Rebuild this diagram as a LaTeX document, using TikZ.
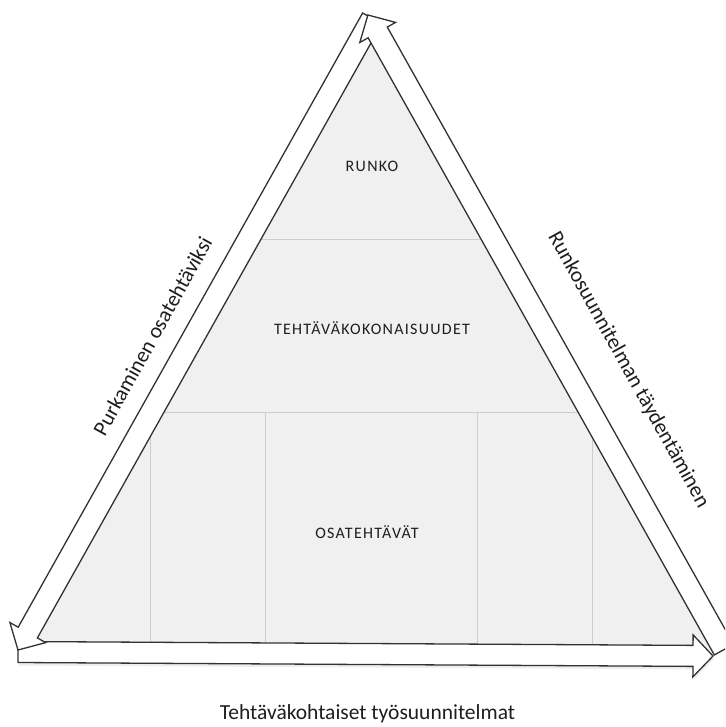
\documentclass[tikz,border=0pt]{standalone}
\usepackage{fontspec}
\setmainfont{Carlito}
\newfontfamily\capsfont[LetterSpace=8]{Carlito}

\definecolor{panel}{RGB}{240,240,240}
\definecolor{gridgray}{RGB}{205,205,205}
\definecolor{edge}{RGB}{50,50,50}
\definecolor{glow}{RGB}{234,239,247}
\definecolor{ink}{RGB}{30,30,30}

\tikzset{
  arrowbody/.style={fill=white, draw=edge, line width=1.3pt, line join=miter},
  arrowglow/.style={fill=glow, draw=none},
  gridline/.style={draw=gridgray, line width=1pt},
  boxlabel/.style={text=ink, font=\capsfont\fontsize{16}{19}\selectfont, inner sep=0pt},
  sidelabel/.style={text=ink, font=\fontsize{21.5}{25}\selectfont, inner sep=0pt},
}

\begin{document}
\begin{tikzpicture}[x=1pt, y=-1pt]
  \useasboundingbox (0,0) rectangle (725,727);
  \clip (0,0) rectangle (725,727);

  % pyramid corners
  \coordinate (apex) at (371,43);
  \coordinate (baseL) at (30.5,650);
  \coordinate (baseR) at (711.5,650);

  % left arrow: from the apex down to the lower left corner
  \coordinate (lt1) at (381.79,23.78);
  \coordinate (lt2) at (362.61,13.02);
  \coordinate (ls1) at (37.38,637.94);
  \coordinate (ls2) at (18.19,627.18);
  \coordinate (lb1) at (45.66,642.59);
  \coordinate (lb2) at (9.90,622.53);
  \coordinate (leftTip) at (18,650);

  % bottom arrow: from the lower left corner to the lower right corner
  \coordinate (bt1) at (18.06,641.5);
  \coordinate (bt2) at (17.94,662.5);
  \coordinate (bs1) at (693.06,645.38);
  \coordinate (bs2) at (692.94,666.38);
  \coordinate (bb1) at (693.12,634.88);
  \coordinate (bb2) at (692.88,676.88);
  \coordinate (bottomTip) at (713,656);

  % right arrow: from the lower right corner up to the apex
  \coordinate (rt1) at (733.49,644.22);
  \coordinate (rt2) at (714.31,654.98);
  \coordinate (rs1) at (387.28,27.06);
  \coordinate (rs2) at (368.10,37.82);
  \coordinate (rb1) at (395.57,22.41);
  \coordinate (rb2) at (359.81,42.47);
  \coordinate (rightTip) at (367.9,15);

  % soft glow under the bottom arrow
  \begin{scope}[transform canvas={shift={(1pt,-3pt)}}]
    \path[arrowglow] (bt1) -- (bs1) -- (bb1) -- (bottomTip) -- (bb2) -- (bs2) -- (bt2) -- cycle;
  \end{scope}

  % shaded pyramid with its level and task divisions
  \fill[panel] (apex) -- (baseL) -- (baseR) -- cycle;
  \begin{scope}
    \clip (apex) -- (baseL) -- (baseR) -- cycle;
    \draw[gridline] (0,239.5) -- (725,239.5);
    \draw[gridline] (0,412.5) -- (725,412.5);
    \foreach \gx in {150,265,477,592}
      \draw[gridline] (\gx,412.5) -- (\gx,650);
  \end{scope}

  % level labels
  \node[boxlabel] (runko) at (372,166) {RUNKO};
  \node[boxlabel] (kokonaisuudet) at (372,328) {TEHTÄVÄKOKONAISUUDET};
  \node[boxlabel] (osat) at (367,532) {OSATEHTÄVÄT};

  % the three block arrows round the pyramid
  \path[arrowbody] (bt1) -- (bs1) -- (bb1) -- (bottomTip) -- (bb2) -- (bs2) -- (bt2) -- cycle;
  \path[arrowbody] (lt1) -- (ls1) -- (lb1) -- (leftTip) -- (lb2) -- (ls2) -- (lt2) -- cycle;
  \path[arrowbody] (rt1) -- (rs1) -- (rb1) -- (rightTip) -- (rb2) -- (rs2) -- (rt2) -- cycle;

  % side labels
  \node[sidelabel, rotate=61] (purku) at (152.5,336) {Purkaminen osatehtäviksi};
  \node[sidelabel, rotate=-61] (taydennys) at (628.5,370) {Runkosuunnitelman täydentäminen};
  \node[sidelabel] (tyosuunnitelmat) at (367.5,714) {Tehtäväkohtaiset työsuunnitelmat};
\end{tikzpicture}
\end{document}
